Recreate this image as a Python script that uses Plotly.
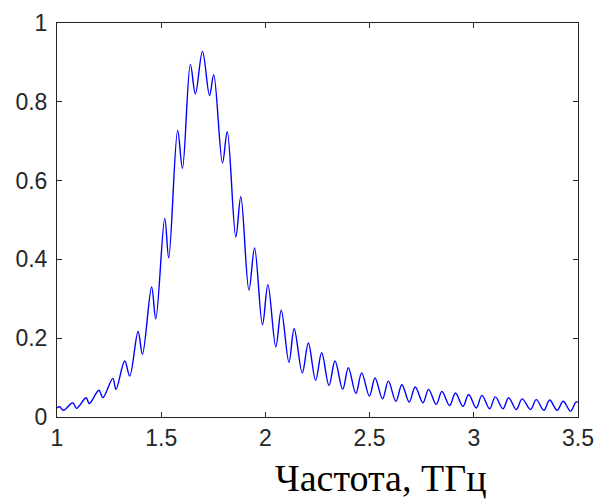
import plotly.graph_objects as go

# Frequency (THz) and transmission (fringe peaks and dips)
freq = [1.000, 1.012, 1.031, 1.076, 1.094, 1.140, 1.155, 1.201, 1.220, 1.268, 1.283,
        1.325, 1.349, 1.389, 1.410, 1.454, 1.474, 1.517, 1.536, 1.579, 1.602,
        1.640, 1.664, 1.698, 1.732, 1.752, 1.794, 1.817, 1.858, 1.882, 1.921,
        1.948, 1.986, 2.012, 2.050, 2.076, 2.113, 2.138, 2.177, 2.206, 2.241,
        2.270, 2.305, 2.334, 2.371, 2.398, 2.434, 2.462, 2.499, 2.526, 2.562,
        2.590, 2.626, 2.655, 2.690, 2.719, 2.756, 2.783, 2.820, 2.847, 2.884,
        2.912, 2.948, 2.975, 3.012, 3.039, 3.076, 3.103, 3.140, 3.167, 3.204,
        3.232, 3.272, 3.300, 3.336, 3.364, 3.400, 3.429, 3.464, 3.490, 3.500]
amp = [0.023, 0.026, 0.017, 0.036, 0.022, 0.049, 0.034, 0.068, 0.049, 0.098, 0.070,
       0.142, 0.104, 0.217, 0.159, 0.330, 0.249, 0.504, 0.404, 0.727, 0.631,
       0.895, 0.820, 0.928, 0.816, 0.869, 0.645, 0.724, 0.457, 0.559, 0.322,
       0.429, 0.234, 0.336, 0.178, 0.271, 0.139, 0.224, 0.112, 0.188, 0.093,
       0.163, 0.080, 0.142, 0.070, 0.125, 0.060, 0.112, 0.053, 0.099, 0.046,
       0.091, 0.040, 0.082, 0.038, 0.076, 0.036, 0.070, 0.032, 0.065, 0.029,
       0.061, 0.027, 0.057, 0.023, 0.055, 0.021, 0.051, 0.021, 0.049, 0.019,
       0.046, 0.019, 0.044, 0.017, 0.043, 0.017, 0.040, 0.015, 0.038, 0.037]

x_ticks = [1, 1.5, 2, 2.5, 3, 3.5]
x_ticklabels = ["1", "1.5", "2", "2.5", "3", "3.5"]
y_ticks = [0, 0.2, 0.4, 0.6, 0.8, 1]
y_ticklabels = ["0", "0.2", "0.4", "0.6", "0.8", "1"]
x_title = "Частота, ТГц"

axis_color = "#262626"
tick_font = dict(family="Arial, Liberation Sans, sans-serif", size=23, color=axis_color)

fig = go.Figure()
fig.add_trace(go.Scatter(
    x=freq, y=amp, mode="lines",
    line=dict(color="#0000FF", width=1.4, shape="spline", smoothing=1.0),
    showlegend=False, hoverinfo="skip",
))

fig.update_xaxes(
    range=[1, 3.5], tickvals=x_ticks, ticktext=x_ticklabels,
    ticks="inside", ticklen=5, tickwidth=1, tickcolor=axis_color,
    showline=True, linecolor=axis_color, linewidth=1, mirror="ticks",
    showgrid=False, zeroline=False, tickfont=tick_font, automargin=False,
)
fig.update_yaxes(
    range=[0, 1], tickvals=y_ticks, ticktext=y_ticklabels,
    ticks="inside", ticklen=5, tickwidth=1, tickcolor=axis_color,
    showline=True, linecolor=axis_color, linewidth=1, mirror="ticks",
    showgrid=False, zeroline=False, tickfont=tick_font, ticklabelstandoff=4,
    automargin=False,
)

fig.add_annotation(
    text=x_title, xref="paper", yref="paper", x=0.622, y=-0.155,
    xanchor="center", yanchor="middle", showarrow=False,
    font=dict(family="Times New Roman, Liberation Serif, serif", size=38, color="#000000"),
)

fig.update_layout(
    width=597, height=499,
    margin=dict(l=57, r=19, t=23, b=82),
    paper_bgcolor="white", plot_bgcolor="white",
)

fig.write_html("out.html")
